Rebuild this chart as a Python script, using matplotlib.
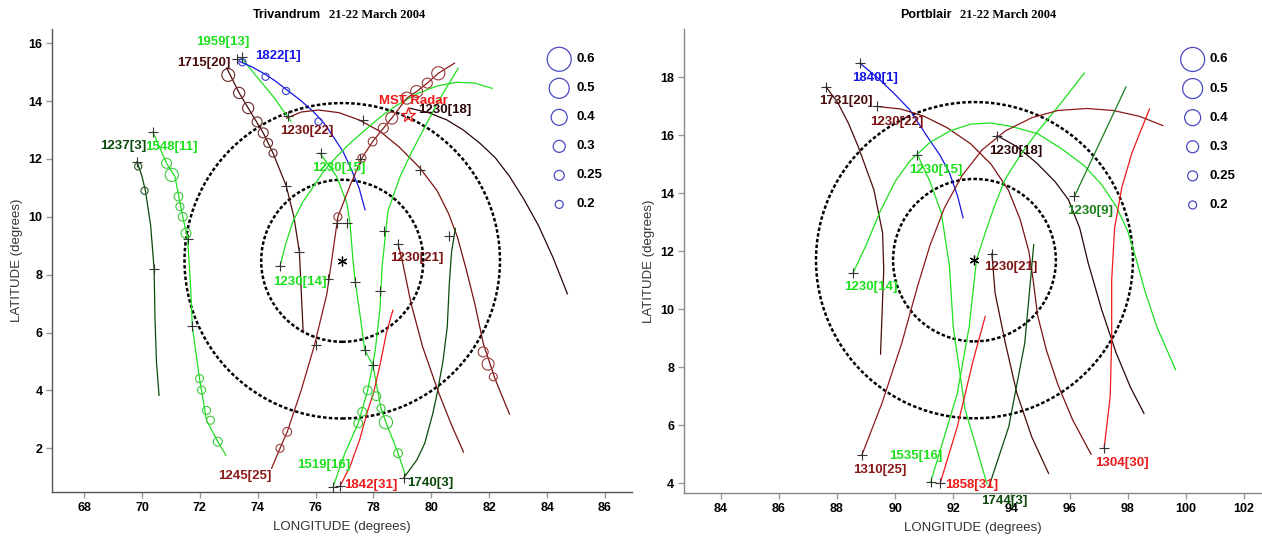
import matplotlib
matplotlib.use('Agg')
import matplotlib.pyplot as plt
from matplotlib.patches import Circle

plt.rcParams['font.family'] = ['Liberation Sans', 'DejaVu Sans']

# colours
GREEN = '#1ee01e'
DKGREEN = '#0b4a0b'
MDGREEN = '#1a7f1a'
BLUE = '#1515e6'
MAROON = '#7a1212'
BROWN = '#4a0c0c'
DARK = '#2a0606'
RED = '#ee1a1a'

# ---------------- Trivandrum (left panel) ----------------
tv_station = (76.92, 8.48)
tv_mst = (79.18, 13.52)
tv_radii = [2.8, 5.45]

tv_1237_3_lon = [69.83, 70.0, 70.12, 70.3, 70.42, 70.45, 70.5, 70.59]
tv_1237_3_lat = [11.91, 11.4, 10.9, 9.7, 8.2, 6.5, 5.0, 3.83]
tv_1548_11_lon = [70.38, 70.85, 71.14, 71.41, 71.58, 71.68, 71.74, 71.99, 72.23, 72.62, 72.9]
tv_1548_11_lat = [12.92, 11.85, 11.39, 10.0, 9.24, 7.6, 6.22, 4.4, 2.97, 2.23, 1.76]
tv_1959_13_lon = [73.45, 73.96, 74.54, 75.15]
tv_1959_13_lat = [15.48, 14.85, 14.15, 13.3]
tv_1822_1_lon = [73.39, 73.8, 74.2, 74.6, 75.0, 75.45, 75.92, 76.3, 76.61, 76.95, 77.19, 77.5, 77.71]
tv_1822_1_lat = [15.36, 15.18, 14.96, 14.7, 14.39, 14.05, 13.64, 13.22, 12.77, 12.25, 11.74, 11.0, 10.24]
tv_1715_20_lon = [72.93, 73.36, 73.67, 74.19, 74.53, 74.98, 75.25, 75.44, 75.57]
tv_1715_20_lat = [15.14, 14.28, 13.76, 12.9, 12.2, 11.08, 10.0, 8.78, 6.02]
tv_1230_22_lon = [75.0, 75.5, 76.1, 76.8, 77.5, 78.23, 78.9, 79.61, 80.2, 80.6, 80.9, 81.2,
                  81.5, 81.8, 82.2, 82.7]
tv_1230_22_lat = [13.41, 13.62, 13.69, 13.6, 13.35, 12.95, 12.4, 11.68, 10.9, 10.1, 9.3, 8.2,
                  7.0, 5.6, 4.4, 3.18]
tv_1230_18_lon = [79.26, 79.9, 80.53, 81.1, 81.68, 82.2, 82.7, 83.2, 83.7, 84.2, 84.7]
tv_1230_18_lat = [13.75, 13.6, 13.35, 13.0, 12.54, 12.05, 11.4, 10.6, 9.7, 8.6, 7.34]
tv_1230_15_lon = [76.15, 76.73, 77.08, 77.19, 77.29, 77.37, 77.55, 77.7, 77.98, 78.26, 78.43, 78.85, 79.1]
tv_1230_15_lat = [12.2, 11.39, 10.47, 9.78, 8.5, 7.75, 6.5, 5.39, 4.87, 3.38, 2.9, 1.83, 1.08]
tv_1230_14_lon = [74.77, 74.95, 75.2, 75.55, 75.92, 76.3, 76.73, 77.2, 77.77, 78.3, 78.8,
                  79.5, 80.19, 80.88, 81.5, 82.1]
tv_1230_14_lat = [8.29, 9.0, 9.8, 10.5, 11.04, 11.6, 12.08, 12.55, 13.05, 13.5, 13.85,
                  14.25, 14.52, 14.65, 14.62, 14.44]
tv_1519_16_lon = [76.6, 77.0, 77.47, 77.8, 78.05, 78.22, 78.3, 78.5, 78.92, 79.3, 79.72, 80.3, 80.93]
tv_1519_16_lat = [0.65, 1.8, 2.86, 4.0, 5.3, 6.77, 8.3, 10.2, 11.39, 12.2, 13.0, 14.1, 15.14]
tv_1842_31_lon = [76.85, 77.2, 77.52, 77.8, 78.0, 78.25, 78.45, 78.67]
tv_1842_31_lat = [0.7, 1.4, 2.29, 3.3, 3.9, 5.0, 6.0, 6.77]
tv_1740_3_lon = [79.04, 79.5, 79.77, 80.05, 80.2, 80.4, 80.55, 80.62, 80.7, 80.83]
tv_1740_3_lat = [0.97, 1.6, 2.17, 3.2, 3.9, 5.0, 6.2, 7.69, 8.8, 9.6]
tv_1230_21_lon = [78.85, 78.99, 79.3, 79.7, 80.26, 80.7, 81.11]
tv_1230_21_lat = [9.05, 8.5, 7.0, 5.5, 3.9, 2.8, 1.87]
tv_1245_25_lon = [74.48, 74.77, 75.02, 75.5, 75.96, 76.39, 76.77, 77.2, 77.6, 77.97, 78.34,
                  78.63, 79.15, 79.49, 79.86, 80.24, 80.8]
tv_1245_25_lat = [1.31, 2.0, 2.57, 4.0, 5.56, 7.34, 10.0, 11.1, 12.03, 12.6, 13.06,
                  13.41, 14.10, 14.33, 14.62, 14.96, 15.31]

tv_plus_lon = [69.83, 70.38, 71.58, 73.29, 73.46, 75.05, 74.98, 75.44, 76.17, 77.65, 77.55,
               76.74, 77.09, 78.36, 78.85, 79.6, 80.62, 70.42, 71.74, 74.77, 76.43, 77.37,
               78.22, 76.0, 77.7, 77.97, 76.6, 76.85, 79.04]
tv_plus_lat = [11.91, 12.92, 9.24, 15.45, 15.52, 13.47, 11.08, 8.78, 12.2, 13.34, 11.99,
               9.8, 9.8, 9.51, 9.05, 11.62, 9.32, 8.21, 6.22, 8.29, 7.86, 7.75,
               7.43, 5.56, 5.39, 4.87, 0.65, 0.7, 0.97]

# circle markers along tracks (value shown by circle size)
tv_circ_lon = [72.98, 73.36, 73.67, 73.98, 74.19, 74.36, 74.53,
               80.24, 79.86, 79.49, 79.15, 78.63, 78.34, 77.97, 77.6, 76.77, 74.77, 75.02,
               70.85, 71.03, 71.26, 71.31, 71.41, 71.52, 71.99, 72.06, 72.23, 72.37, 72.62,
               69.87, 70.09,
               73.47, 74.27, 74.98, 76.1,
               81.79, 81.96, 82.14,
               78.1, 78.26, 78.43, 78.85,
               77.47, 77.61, 77.8]
tv_circ_lat = [14.9, 14.28, 13.76, 13.28, 12.9, 12.55, 12.2,
               14.96, 14.62, 14.33, 14.1, 13.41, 13.06, 12.6, 12.03, 10.0, 2.0, 2.57,
               11.85, 11.45, 10.7, 10.35, 10.0, 9.43, 4.41, 4.01, 3.31, 2.97, 2.23,
               11.74, 10.9,
               15.34, 14.84, 14.35, 13.29,
               5.33, 4.91, 4.47,
               3.8, 3.38, 2.9, 1.83,
               2.86, 3.26, 4.0]
tv_circ_val = [0.32, 0.28, 0.28, 0.25, 0.25, 0.22, 0.2,
               0.33, 0.25, 0.3, 0.3, 0.3, 0.25, 0.22, 0.2, 0.2, 0.2, 0.22,
               0.25, 0.33, 0.22, 0.2, 0.22, 0.25, 0.2, 0.2, 0.2, 0.2, 0.22,
               0.18, 0.18,
               0.18, 0.18, 0.18, 0.18,
               0.25, 0.3, 0.2,
               0.22, 0.2, 0.33, 0.22,
               0.22, 0.22, 0.22]
tv_circ_col = ['#6a2a2a'] * 7 + ['#9a3a3a'] * 11 + ['#3cc83c'] * 11 + ['#2a5a2a'] * 2 + \
              ['#3a3ad0'] * 4 + ['#9a3a3a'] * 3 + ['#3cc83c'] * 7

tv_labels = ['1959[13]', '1822[1]', '1715[20]', '1237[3]', '1548[11]', '1230[22]', 'MST Radar',
             '1230[18]', '1230[15]', '1230[21]', '1230[14]', '1245[25]', '1519[16]', '1842[31]', '1740[3]']
tv_label_lon = [72.79, 74.7, 72.12, 69.34, 71.03, 75.68, 79.38, 80.45, 76.81, 79.49, 75.44,
                73.57, 76.27, 77.91, 79.95]
tv_label_lat = [16.03, 15.54, 15.31, 12.43, 12.41, 12.95, 14.0, 13.7, 11.68, 8.59, 7.75,
                1.06, 1.41, 0.74, 0.8]
tv_label_col = [GREEN, BLUE, BROWN, DKGREEN, GREEN, MAROON, RED, DARK, GREEN, MAROON, GREEN,
                '#8b1a1a', GREEN, RED, DKGREEN]

# ---------------- Portblair (right panel) ----------------
pb_station = (92.73, 11.69)
pb_radii = [2.8, 5.45]

pb_1840_1_lon = [88.79, 89.41, 90.0, 90.5, 91.18, 91.55, 91.87, 92.15, 92.34]
pb_1840_1_lat = [18.48, 17.97, 17.4, 16.88, 15.84, 15.3, 14.7, 13.9, 13.15]
pb_1731_20_lon = [87.63, 88.04, 88.4, 88.73, 89.27, 89.57, 89.61, 89.55, 89.5]
pb_1731_20_lat = [17.66, 17.1, 16.4, 15.61, 14.12, 12.63, 11.37, 9.8, 8.45]
pb_1230_22_lon = [89.37, 90.2, 91.0, 91.8, 92.6, 93.3, 93.9, 94.3, 94.6, 94.75, 94.9, 95.2,
                  95.6, 96.1, 96.74]
pb_1230_22_lat = [16.99, 16.9, 16.65, 16.25, 15.7, 15.0, 14.1, 13.1, 12.0, 11.0, 9.8, 8.6,
                  7.4, 6.2, 5.0]
pb_1230_21_lon = [93.33, 93.44, 93.8, 94.19, 94.7, 95.28]
pb_1230_21_lat = [11.92, 10.55, 8.8, 7.1, 5.6, 4.34]
pb_1230_18_lon = [93.51, 94.2, 94.87, 95.5, 95.96, 96.35, 96.64, 97.1, 97.6, 98.1, 98.56]
pb_1230_18_lat = [15.98, 15.6, 15.04, 14.4, 13.78, 12.8, 11.6, 10.0, 8.5, 7.3, 6.41]
pb_1230_15_lon = [90.77, 91.2, 91.59, 91.87, 92.0, 92.2, 92.41, 92.82, 93.16]
pb_1230_15_lat = [15.33, 14.4, 13.32, 11.49, 9.4, 8.0, 6.53, 5.15, 3.98]
pb_1535_16_lon = [91.22, 91.59, 92.14, 92.55, 92.8, 93.1, 93.4, 93.78, 94.3, 94.87, 95.7, 96.51]
pb_1535_16_lat = [4.03, 5.26, 7.1, 9.4, 11.7, 12.63, 13.5, 14.47, 15.3, 16.08, 17.1, 18.14]
pb_1230_14_lon = [88.56, 89.0, 89.5, 90.0, 90.5, 91.2, 91.9, 92.6, 93.3, 94.0, 94.9, 95.7,
                  96.5, 97.1, 97.6, 98.0, 98.3, 98.6, 99.0, 99.65]
pb_1230_14_lat = [11.26, 12.2, 13.4, 14.4, 15.1, 15.75, 16.15, 16.38, 16.42, 16.3, 16.05, 15.55,
                  14.95, 14.3, 13.55, 12.7, 11.7, 10.6, 9.4, 7.91]
pb_1310_25_lon = [88.86, 89.55, 90.23, 90.77, 91.2, 91.7, 92.3, 93.0, 93.8, 94.7, 95.6, 96.6,
                  97.5, 98.4, 99.21]
pb_1310_25_lat = [4.98, 6.76, 8.83, 10.78, 12.2, 13.5, 14.6, 15.5, 16.15, 16.6, 16.85, 16.92,
                  16.85, 16.65, 16.33]
pb_1858_31_lon = [91.55, 92.14, 92.69, 93.1]
pb_1858_31_lat = [4.0, 5.95, 8.25, 9.75]
pb_1744_3_lon = [93.23, 93.91, 94.46, 94.67, 94.77]
pb_1744_3_lat = [3.89, 5.95, 8.83, 11.13, 12.23]
pb_1230_9_lon = [96.17, 97.94]
pb_1230_9_lat = [13.89, 17.66]
pb_1304_30_lon = [97.19, 97.4, 97.45, 97.45, 97.55, 97.8, 98.15, 98.75]
pb_1304_30_lat = [5.21, 7.0, 9.0, 11.0, 12.8, 14.2, 15.4, 16.9]

pb_plus_lon = [88.79, 87.63, 89.37, 93.51, 90.77, 96.17, 93.33, 88.56, 88.86, 91.22, 91.55, 97.19]
pb_plus_lat = [18.48, 17.66, 16.99, 15.98, 15.33, 13.89, 11.92, 11.26, 4.98, 4.03, 4.0, 5.21]

pb_labels = ['1840[1]', '1731[20]', '1230[22]', '1230[18]', '1230[15]', '1230[9]', '1230[21]',
             '1230[14]', '1535[16]', '1310[25]', '1858[31]', '1744[3]', '1304[30]']
pb_label_lon = [89.31, 88.32, 90.05, 94.15, 91.39, 96.72, 93.98, 89.18, 90.73, 89.48, 92.62,
                93.75, 97.81]
pb_label_lat = [17.97, 17.16, 16.47, 15.44, 14.81, 13.4, 11.45, 10.78, 4.94, 4.46, 3.94, 3.4, 4.69]
pb_label_col = [BLUE, BROWN, MAROON, DARK, GREEN, MDGREEN, MAROON, GREEN, GREEN, '#8b1a1a', RED,
                DKGREEN, RED]

# legend of circle sizes
legend_vals = [0.6, 0.5, 0.4, 0.3, 0.25, 0.2]


def msize(v):
    r_px = 4 + 20 * (v - 0.2)
    return (2 * r_px * 0.72) ** 2


tv_tracks = [
    (tv_1237_3_lon, tv_1237_3_lat, DKGREEN), (tv_1548_11_lon, tv_1548_11_lat, GREEN),
    (tv_1959_13_lon, tv_1959_13_lat, GREEN), (tv_1822_1_lon, tv_1822_1_lat, BLUE),
    (tv_1715_20_lon, tv_1715_20_lat, BROWN), (tv_1230_22_lon, tv_1230_22_lat, MAROON),
    (tv_1230_18_lon, tv_1230_18_lat, DARK), (tv_1230_15_lon, tv_1230_15_lat, GREEN),
    (tv_1230_14_lon, tv_1230_14_lat, GREEN), (tv_1519_16_lon, tv_1519_16_lat, GREEN),
    (tv_1842_31_lon, tv_1842_31_lat, RED), (tv_1740_3_lon, tv_1740_3_lat, DKGREEN),
    (tv_1230_21_lon, tv_1230_21_lat, MAROON), (tv_1245_25_lon, tv_1245_25_lat, '#8b1a1a'),
]
pb_tracks = [
    (pb_1840_1_lon, pb_1840_1_lat, BLUE), (pb_1731_20_lon, pb_1731_20_lat, BROWN),
    (pb_1230_22_lon, pb_1230_22_lat, MAROON), (pb_1230_21_lon, pb_1230_21_lat, BROWN),
    (pb_1230_18_lon, pb_1230_18_lat, DARK), (pb_1230_15_lon, pb_1230_15_lat, GREEN),
    (pb_1535_16_lon, pb_1535_16_lat, GREEN), (pb_1230_14_lon, pb_1230_14_lat, GREEN),
    (pb_1310_25_lon, pb_1310_25_lat, '#8b1a1a'), (pb_1858_31_lon, pb_1858_31_lat, RED),
    (pb_1744_3_lon, pb_1744_3_lat, DKGREEN), (pb_1230_9_lon, pb_1230_9_lat, MDGREEN),
    (pb_1304_30_lon, pb_1304_30_lat, RED),
]


def setup_axes(ax, xlim, ylim, xticks, yticks, spine_col):
    ax.set_xlim(*xlim)
    ax.set_ylim(*ylim)
    ax.set_xticks(xticks)
    ax.set_yticks(yticks)
    for s in ['top', 'right']:
        ax.spines[s].set_visible(False)
    for s in ['left', 'bottom']:
        ax.spines[s].set_color(spine_col)
        ax.spines[s].set_linewidth(1.0)
    ax.tick_params(direction='out', length=4, width=1, color='#999999', pad=3)
    for lab in ax.get_xticklabels() + ax.get_yticklabels():
        lab.set_fontweight('bold')
        lab.set_fontsize(9)
    ax.set_xlabel('LONGITUDE (degrees)', fontsize=9.5, color='#333333', labelpad=5)
    ax.set_ylabel('LATITUDE (degrees)', fontsize=9.5, color='#333333', labelpad=4)


def draw_panel(ax, station, radii, tracks, plus_lon, plus_lat, labels, llon, llat, lcol,
               leg_x, lab_x, place, date):
    for r in radii:
        ax.add_patch(Circle(station, r, fill=False, ec='black', lw=1.8, ls=(0, (1.4, 0.9)), zorder=2))
    for lon, lat, col in tracks:
        ax.plot(lon, lat, color=col, lw=0.9, zorder=3)
    ax.plot(plus_lon, plus_lat, '+', color='#333333', ms=7, mew=0.8, zorder=4)
    ax.plot(*station, marker=(6, 2, 0), color='black', ms=7, mew=0.9, zorder=5)
    for t, x, y, c in zip(labels, llon, llat, lcol):
        ax.text(x, y, t, color=c, fontsize=9.5, fontweight='bold', ha='center', va='center',
                zorder=6, clip_on=False)
    # circle size legend
    for i, v in enumerate(legend_vals):
        y = 0.9346 - i * 0.0627
        ax.scatter([leg_x], [y], s=msize(v), facecolors='none', edgecolors='#4a4abf',
                   linewidths=0.9, transform=ax.transAxes, clip_on=False)
        ax.text(lab_x, y, str(v), transform=ax.transAxes, fontsize=9.5, fontweight='bold',
                va='center', ha='left')
    ax.text(0.463, 1.031, place, transform=ax.transAxes, fontsize=9, fontweight='bold',
            ha='right', va='center')
    ax.text(0.477, 1.031, date, transform=ax.transAxes, fontsize=9, fontweight='bold',
            ha='left', va='center', family='Liberation Serif')


fig = plt.figure(figsize=(12.62, 5.36), dpi=100)
ax1 = fig.add_axes([0.0414, 0.0821, 0.4591, 0.8638])
ax2 = fig.add_axes([0.542, 0.0797, 0.458, 0.866])

setup_axes(ax1, (66.9, 86.92), (0.49, 16.49), range(68, 87, 2), range(2, 17, 2), '#555555')
setup_axes(ax2, (82.74, 102.62), (3.655, 19.655), range(84, 103, 2), range(4, 19, 2), '#888888')

draw_panel(ax1, tv_station, tv_radii, tv_tracks, tv_plus_lon, tv_plus_lat, tv_labels,
           tv_label_lon, tv_label_lat, tv_label_col, 0.875, 0.905, 'Trivandrum', '21-22 March 2004')
ax1.scatter(tv_circ_lon, tv_circ_lat, s=[msize(v) for v in tv_circ_val], facecolors='none',
            edgecolors=tv_circ_col, linewidths=0.8, zorder=4)
ax1.plot(*tv_mst, '*', ms=11, mfc='none', mec=RED, mew=0.9, zorder=5)

draw_panel(ax2, pb_station, pb_radii, pb_tracks, pb_plus_lon, pb_plus_lat, pb_labels,
           pb_label_lon, pb_label_lat, pb_label_col, 0.880, 0.910, 'Portblair', '21-22 March 2004')

fig.savefig('out.png', dpi=100)
